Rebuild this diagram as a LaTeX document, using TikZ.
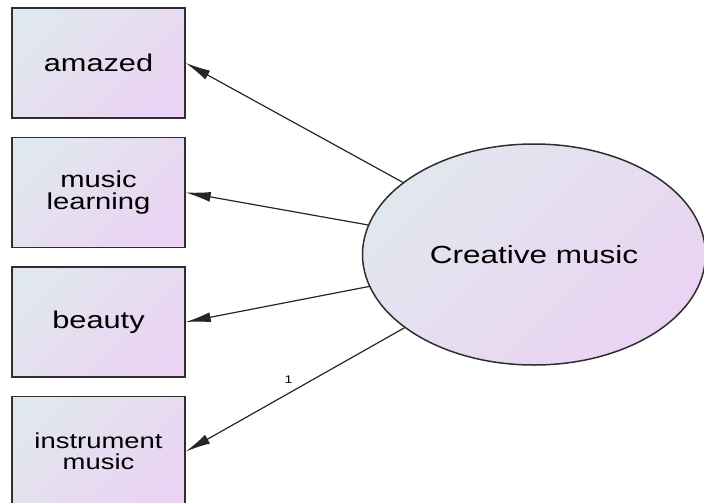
\documentclass[tikz,border=0pt]{standalone}
\usepackage{fontspec}
\newfontfamily\amosfont[FakeStretch=1.27]{Liberation Sans}
\usepackage{xcolor}
\usepackage{tikz}
\usetikzlibrary{shapes.geometric, arrows.meta, positioning}

\definecolor{boxgrey}{HTML}{E1E7EE}
\definecolor{boxlilac}{HTML}{EBD3F3}
\definecolor{edgegrey}{HTML}{2E2E2E}

\begin{document}
\begin{tikzpicture}[
    x=0.5pt, y=-0.5pt,
    node distance=9pt,
    observed/.style={rectangle, draw=edgegrey, top color=boxgrey, bottom color=boxlilac, shading angle=45, minimum width=86.5pt, minimum height=55pt, inner sep=0pt, align=center, line width=0.75pt, font=\amosfont\fontsize{12.1}{10.6}\selectfont},
    latent/.style={ellipse, draw=edgegrey, top color=boxgrey, bottom color=boxlilac, shading angle=45, minimum width=171.5pt, minimum height=110.5pt, inner sep=0pt, line width=0.75pt, font=\amosfont\fontsize{12.4}{12.4}\selectfont},
    arrow/.style={-{Latex[length=12.5pt, width=5pt]}, line width=0.6pt, draw=black!85},
]
\useasboundingbox (0,0) rectangle (704,502);

\node[observed] (amazed) at (98.5,63) {amazed};
\node[observed, below=of amazed, font=\amosfont\fontsize{11.5}{10.6}\selectfont] (learning) {music\\learning};
\node[observed, below=of learning] (beauty) {beauty};
\node[observed, below=of beauty, font=\amosfont\fontsize{10.8}{10.7}\selectfont] (instrument) {instrument\\music};
\node[latent] (creative) at (534,254.5) {Creative music};

\draw[arrow] (creative) -- (amazed.east);
\draw[arrow] (creative) -- (learning.east);
\draw[arrow] (creative) -- (beauty.east);
\draw[arrow] (creative) -- node[pos=0.53, above=4.5pt, inner sep=0pt, font=\amosfont\fontsize{5.5}{5.5}\selectfont] (w1) {1} (instrument.east);
\end{tikzpicture}
\end{document}
